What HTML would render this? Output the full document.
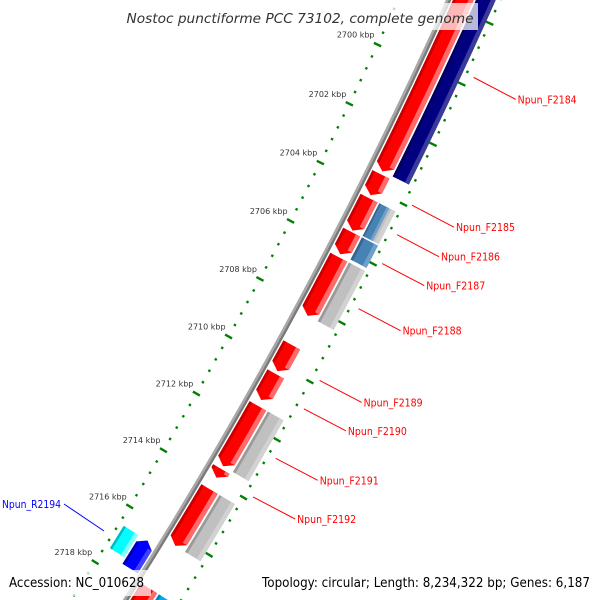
<!DOCTYPE html>
<html><head><meta charset="utf-8"><style>
html,body{margin:0;padding:0;background:#fff;width:600px;height:600px;overflow:hidden;}
svg{display:block;overflow:hidden;font-family:"DejaVu Sans","Liberation Sans",sans-serif;}
</style></head><body>
<svg id="map" width="600" height="600" viewBox="0 0 600 600" xmlns="http://www.w3.org/2000/svg">
<rect x="0" y="0" width="600" height="600" fill="#fff"/>
<g id="layer"></g>
<rect x="120" y="3" width="358" height="27" fill="#fff" opacity="0.72"/>
<text x="300" y="23" text-anchor="middle" font-style="italic" font-size="13" fill="#333" textLength="347" lengthAdjust="spacingAndGlyphs">Nostoc punctiforme PCC 73102, complete genome</text>
<rect x="3" y="570" width="148" height="26" fill="#fff" opacity="0.72"/>
<text x="9" y="587" font-size="13" fill="#000" textLength="135" lengthAdjust="spacingAndGlyphs">Accession: NC_010628</text>
<rect x="255" y="570" width="342" height="26" fill="#fff" opacity="0.72"/>
<text x="262" y="587" font-size="13" fill="#000" textLength="328" lengthAdjust="spacingAndGlyphs">Topology: circular; Length: 8,234,322 bp; Genes: 6,187</text>
</svg>
<script>
// forward genes (ring 1)
const fwdStarts = [2690, 2703.5, 2704.3, 2705.45, 2706.3, 2709.3, 2710.3, 2711.4, 2713.6, 2714.3, 2717.8];
const fwdEnds   = [2703.4, 2704.2, 2705.4, 2706.2, 2708.3, 2710.2, 2711.2, 2713.5, 2713.9, 2716.3, 2725];
// COG category ring (ring 2)
const cogStarts = [2690, 2704.3, 2705.45, 2706.3, 2711.4, 2714.3, 2717.8];
const cogEnds   = [2703.4, 2705.4, 2706.2, 2708.3, 2713.5, 2716.3, 2725];
const cogCats   = ['navy', 'split', 'steel', 'gray', 'gray', 'gray', 'sky'];
// reverse genes
const revStarts = [2716.6];
const revEnds   = [2717.6];
const rnaStarts = [2716.6];
const rnaEnds   = [2717.4];
// ticks
const tickLabels = [2696, 2698, 2700, 2702, 2704, 2706, 2708, 2710, 2712, 2714, 2716, 2718, 2720];
// gene labels
const labelNames = ['Npun_F2184','Npun_F2185','Npun_F2186','Npun_F2187','Npun_F2188','Npun_F2189','Npun_F2190','Npun_F2191','Npun_F2192'];
const labelKbp   = [2699.67, 2703.91, 2704.90, 2705.87, 2707.39, 2709.83, 2710.80, 2712.50, 2713.84];
const revLabelNames = ['Npun_R2194'];
const revLabelKbp   = [2717.05];

const NS = 'http://www.w3.org/2000/svg';
const layer = document.getElementById('layer');
const CX = -3944, CY = -1977, R0 = 4817, A0 = 25.07, DEG = 0.3936;
function pt(k, r) {
  const a = (A0 + (k - 2700) * DEG) * Math.PI / 180;
  return [CX + r * Math.cos(a), CY + r * Math.sin(a)];
}
function arcPts(k1, k2, r) {
  const out = [], n = Math.max(2, Math.ceil(Math.abs(k2 - k1) * 2));
  for (let i = 0; i <= n; i++) out.push(pt(k1 + (k2 - k1) * i / n, r));
  return out;
}
function bandPath(k1, k2, r1, r2, arrow) {
  const L = 0.2;
  let pts;
  if (arrow === 1 && k2 - k1 > L) {
    pts = arcPts(k1, k2 - L, r2).concat([pt(k2, (r1 + r2) / 2)], arcPts(k2 - L, k1, r1));
  } else if (arrow === -1 && k2 - k1 > L) {
    pts = [pt(k1, (r1 + r2) / 2)].concat(arcPts(k1 + L, k2, r2), arcPts(k2, k1 + L, r1));
  } else {
    pts = arcPts(k1, k2, r2).concat(arcPts(k2, k1, r1));
  }
  return 'M' + pts.map(p => p[0].toFixed(2) + ',' + p[1].toFixed(2)).join('L') + 'Z';
}
function addPath(d, fill, name) {
  const p = document.createElementNS(NS, 'path');
  p.setAttribute('d', d);
  p.setAttribute('fill', fill);
  
  
  layer.appendChild(p);
  return p;
}
function shaded(k1, k2, r1, r2, arrow, main, light, dark, name) {
  addPath(bandPath(k1, k2, r1, r2, arrow), main, name);
  const L = 0.2;
  const s1 = arrow === -1 ? k1 + L : k1, s2 = arrow === 1 ? k2 - L : k2;
  if (s2 > s1) {
    const w = r2 - r1;
    addPath(bandPath(s1, s2, r2 - w * 0.25, r2, 0), light, name + '-highlight');
    addPath(bandPath(s1, s2, r1, r1 + w * 0.15, 0), dark, name + '-shadow');
  }
}

// backbone
addPath(bandPath(2685, 2730, R0 - 2.5, R0, 0), '#a8a8a8', 'backbone-inner');
addPath(bandPath(2685, 2730, R0, R0 + 2.5, 0), '#7a7a7a', 'backbone-outer');

// dotted rings
function dot(k, r, len, name) {
  const a = pt(k, r - len / 2), b = pt(k, r + len / 2);
  const l = document.createElementNS(NS, 'line');
  l.setAttribute('x1', a[0]); l.setAttribute('y1', a[1]);
  l.setAttribute('x2', b[0]); l.setAttribute('y2', b[1]);
  l.setAttribute('stroke', '#008000');
  l.setAttribute('stroke-width', '2.4');
  
  
  layer.appendChild(l);
}
for (let i = 0; i <= 80; i++) {
  const k = 2690 + i * 0.4;
  const major = Math.abs(k / 2 - Math.round(k / 2)) < 1e-6;
  dot(k, R0 - 46, major ? 8 : 2.4, major ? 'inner-major-tick' : 'inner-minor-tick');
  dot(k, R0 + 47, major ? 8 : 2.4, major ? 'outer-major-tick' : 'outer-minor-tick');
}
tickLabels.forEach(k => {
  const p = pt(k, R0 - 46);
  const t = document.createElementNS(NS, 'text');
  t.setAttribute('x', p[0] - 3); t.setAttribute('y', p[1] - 7);
  t.setAttribute('text-anchor', 'end');
  t.setAttribute('font-size', '8');
  t.setAttribute('fill', '#333');
  t.textContent = k + ' kbp';
  
  
  layer.appendChild(t);
});

// forward genes
fwdStarts.forEach((s, i) => {
  shaded(s, fwdEnds[i], R0 + 4, R0 + 23, 1, '#ff0000', '#ff6a6a', '#c80000', 'forward-gene');
});
// COG ring
const cogMain = {navy: '#000080', steel: '#4682b4', gray: '#c0c0c0', sky: '#00a8f0'};
const cogLight = {navy: '#3a3a9a', steel: '#6fa0cc', gray: '#d2d2d2', sky: '#50c8ff'};
const cogDark = {navy: '#000060', steel: '#36648e', gray: '#9a9a9a', sky: '#0080c0'};
cogStarts.forEach((s, i) => {
  const c = cogCats[i];
  if (c === 'split') {
    shaded(s, cogEnds[i], R0 + 25, R0 + 43, 0, '#c0c0c0', '#d2d2d2', '#9a9a9a', 'cog-gene');
    shaded(s, cogEnds[i], R0 + 25, R0 + 36, 0, '#4682b4', '#6fa0cc', '#36648e', 'cog-gene-secondary');
  } else {
    shaded(s, cogEnds[i], R0 + 25, R0 + 43, 0, cogMain[c], cogLight[c], cogDark[c], 'cog-gene');
  }
});
// reverse genes
revStarts.forEach((s, i) => {
  shaded(s, revEnds[i], R0 - 22, R0 - 4, -1, '#0000ff', '#4040ff', '#0000b0', 'reverse-gene');
});
rnaStarts.forEach((s, i) => {
  shaded(s, rnaEnds[i], R0 - 41, R0 - 24, 0, '#00ffff', '#80ffff', '#00c0c0', 'reverse-cog-gene');
});

// labels
function label(k, name, color, dir) {
  const a = pt(k, R0 + 55 * dir);
  const b = dir > 0 ? [a[0] + 42, a[1] + 22] : [a[0] - 40, a[1] - 27];
  const l = document.createElementNS(NS, 'line');
  l.setAttribute('x1', a[0]); l.setAttribute('y1', a[1]);
  l.setAttribute('x2', b[0]); l.setAttribute('y2', b[1]);
  l.setAttribute('stroke', color); l.setAttribute('stroke-width', '1');
  
  
  layer.appendChild(l);
  const t = document.createElementNS(NS, 'text');
  t.setAttribute('x', dir > 0 ? b[0] + 2 : b[0] - 3);
  t.setAttribute('y', b[1] + 4);
  t.setAttribute('text-anchor', dir > 0 ? 'start' : 'end');
  t.setAttribute('font-size', '10.5');
  t.setAttribute('fill', color);
  t.setAttribute('textLength', '59');
  t.setAttribute('lengthAdjust', 'spacingAndGlyphs');
  t.textContent = name;
  
  
  layer.appendChild(t);
}
labelNames.forEach((n, i) => label(labelKbp[i], n, '#ff0000', 1));
revLabelNames.forEach((n, i) => label(revLabelKbp[i], n, '#0000ff', -1));
</script>
</body></html>
